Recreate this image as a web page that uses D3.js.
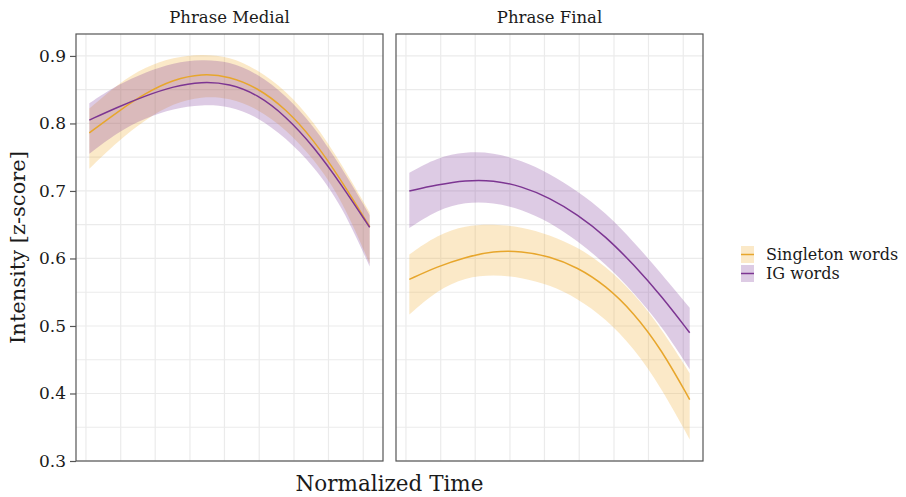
<!DOCTYPE html>
<html>
<head>
<meta charset="utf-8">
<script src="https://cdn.jsdelivr.net/npm/d3@7"></script>
<style>
  html, body { margin: 0; padding: 0; background: #fff; }
  svg { display: block; }
  text { font-family: "DejaVu Serif", serif; fill: #1a1a1a; }
</style>
</head>
<body>
<svg id="chart" width="906" height="497"></svg>
<script>
// ---- data ----
const panels = ["Phrase Medial", "Phrase Final"];
const series = ["Singleton words", "IG words"];
const time = [0, 0.1, 0.2, 0.3, 0.4, 0.5, 0.6, 0.7, 0.8, 0.9, 1.0];

// Phrase Medial
const medialSingletonFit   = [0.786, 0.817, 0.845, 0.865, 0.874, 0.870, 0.853, 0.822, 0.776, 0.715, 0.647];
const medialSingletonUpper = [0.822, 0.858, 0.884, 0.898, 0.903, 0.899, 0.880, 0.849, 0.803, 0.740, 0.668];
const medialSingletonLower = [0.733, 0.773, 0.806, 0.830, 0.840, 0.838, 0.822, 0.792, 0.748, 0.688, 0.592];
const medialIGFit   = [0.805, 0.824, 0.841, 0.855, 0.862, 0.859, 0.843, 0.811, 0.766, 0.709, 0.646];
const medialIGUpper = [0.830, 0.857, 0.876, 0.890, 0.895, 0.892, 0.874, 0.842, 0.797, 0.735, 0.664];
const medialIGLower = [0.755, 0.787, 0.808, 0.822, 0.828, 0.826, 0.810, 0.779, 0.737, 0.679, 0.588];

// Phrase Final
const finalSingletonFit   = [0.569, 0.588, 0.602, 0.611, 0.611, 0.603, 0.587, 0.560, 0.520, 0.465, 0.391];
const finalSingletonUpper = [0.606, 0.635, 0.649, 0.651, 0.647, 0.635, 0.617, 0.589, 0.549, 0.496, 0.430];
const finalSingletonLower = [0.517, 0.553, 0.572, 0.576, 0.572, 0.561, 0.541, 0.511, 0.468, 0.408, 0.332];
const finalIGFit   = [0.700, 0.709, 0.716, 0.716, 0.707, 0.690, 0.665, 0.633, 0.591, 0.544, 0.490];
const finalIGUpper = [0.727, 0.750, 0.758, 0.757, 0.745, 0.726, 0.700, 0.668, 0.625, 0.577, 0.527];
const finalIGLower = [0.645, 0.672, 0.684, 0.683, 0.673, 0.654, 0.626, 0.592, 0.550, 0.500, 0.436];

const yTicks = [0.3, 0.4, 0.5, 0.6, 0.7, 0.8, 0.9];
const yMinor = [0.35, 0.45, 0.55, 0.65, 0.75, 0.85];
const xGrid = [-0.012, 0.112, 0.235, 0.359, 0.482, 0.606, 0.730, 0.853, 0.977];

const colors = { line: ["#E7A62C", "#7C3592"], fill: ["rgba(240,175,50,0.27)", "rgba(125,55,150,0.26)"] };

const dataByPanel = [
  [ {fit: medialSingletonFit, up: medialSingletonUpper, lo: medialSingletonLower},
    {fit: medialIGFit, up: medialIGUpper, lo: medialIGLower} ],
  [ {fit: finalSingletonFit, up: finalSingletonUpper, lo: finalSingletonLower},
    {fit: finalIGFit, up: finalIGUpper, lo: finalIGLower} ]
];

// ---- layout ----
const svg = d3.select("#chart");
const panelW = 307, panelH = 427, panelTop = 34;
const panelLefts = [76, 396];

const x = d3.scaleLinear().domain([-0.0475, 1.0475]).range([0, panelW]);
const y = d3.scaleLinear().domain([0.3, 0.9325]).range([panelH, 0]);

const curve = d3.curveBasis;

panels.forEach((name, pi) => {
  const g = svg.append("g").attr("transform", `translate(${panelLefts[pi]},${panelTop})`);
  // grid
  g.selectAll(".hg").data(yTicks.concat(yMinor)).enter().append("line")
    .attr("x1", 0).attr("x2", panelW)
    .attr("y1", d => y(d)).attr("y2", d => y(d))
    .attr("stroke", "#ebebeb").attr("stroke-width", 1.2);
  g.selectAll(".vg").data(xGrid).enter().append("line")
    .attr("y1", 0).attr("y2", panelH)
    .attr("x1", d => x(d)).attr("x2", d => x(d))
    .attr("stroke", "#ebebeb").attr("stroke-width", 1.2);

  const clipId = "clip" + pi;
  g.append("clipPath").attr("id", clipId).append("rect").attr("width", panelW).attr("height", panelH);
  const plot = g.append("g").attr("clip-path", `url(#${clipId})`);

  const sets = dataByPanel[pi];
  sets.forEach((s, si) => {
    const pts = time.map((t, i) => ({t, fit: s.fit[i], up: s.up[i], lo: s.lo[i]}));
    plot.append("path").datum(pts)
      .attr("d", d3.area().x(d => x(d.t)).y0(d => y(d.lo)).y1(d => y(d.up)).curve(curve))
      .attr("fill", colors.fill[si]);
  });
  sets.forEach((s, si) => {
    const pts = time.map((t, i) => ({t, fit: s.fit[i]}));
    plot.append("path").datum(pts)
      .attr("d", d3.line().x(d => x(d.t)).y(d => y(d.fit)).curve(curve))
      .attr("fill", "none").attr("stroke", colors.line[si]).attr("stroke-width", 1.5);
  });

  // border
  g.append("rect").attr("width", panelW).attr("height", panelH)
    .attr("fill", "none").attr("stroke", "#555").attr("stroke-width", 1.2);

  // strip
  svg.append("text").attr("x", panelLefts[pi] + panelW / 2).attr("y", 23)
    .attr("text-anchor", "middle").attr("font-size", 16.5).text(name);

  if (pi === 0) {
    const ax = g.append("g").call(d3.axisLeft(y).tickValues(yTicks).tickSize(6).tickPadding(4).tickFormat(d3.format(".1f")));
    ax.select(".domain").remove();
    ax.selectAll(".tick line").attr("stroke", "#555").attr("stroke-width", 1.2);
    ax.selectAll(".tick text").attr("font-size", 17).attr("font-family", "DejaVu Serif").attr("fill", "#222");
  }
});

// axis titles
svg.append("text").attr("transform", `translate(25,${panelTop + panelH / 2}) rotate(-90)`)
  .attr("text-anchor", "middle").attr("font-size", 21).text("Intensity [z-score]");
svg.append("text").attr("x", (panelLefts[0] + panelLefts[1] + panelW) / 2).attr("y", 491)
  .attr("text-anchor", "middle").attr("font-size", 21.5).text("Normalized Time");

// legend
const lg = svg.append("g").attr("transform", "translate(741,246)");
series.forEach((s, i) => {
  const row = lg.append("g").attr("transform", `translate(0,${i * 19})`);
  row.append("rect").attr("width", 13).attr("height", 17).attr("fill", colors.fill[i]);
  row.append("line").attr("x1", 0).attr("x2", 13).attr("y1", 8.5).attr("y2", 8.5)
    .attr("stroke", colors.line[i]).attr("stroke-width", 1.5);
  row.append("text").attr("x", 25).attr("y", 8.5).attr("dy", "0.35em")
    .attr("font-size", 16).text(s);
});
</script>
</body>
</html>
